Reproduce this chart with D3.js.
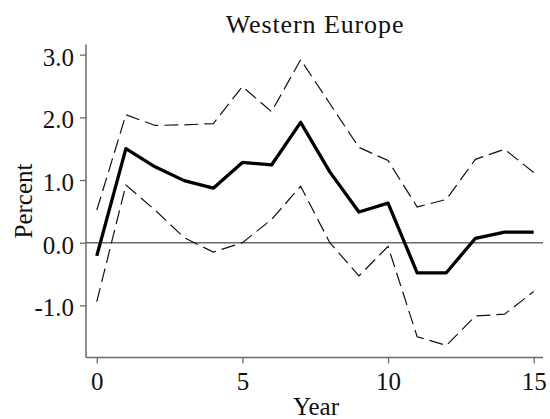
<!DOCTYPE html>
<html>
<head>
<meta charset="utf-8">
<script src="https://cdn.jsdelivr.net/npm/d3@7"></script>
<style>
  html, body { margin: 0; padding: 0; background: #fff; }
  svg { display: block; }
  text { font-family: "Liberation Serif", "Times New Roman", serif; fill: #111; }
</style>
</head>
<body>
<svg id="chart" width="550" height="419"></svg>
<script>
const title = "Western Europe";
const xLabel = "Year";
const yLabel = "Percent";
const years = [0,1,2,3,4,5,6,7,8,9,10,11,12,13,14,15];
const estimate = [-0.21,1.50,1.21,0.99,0.87,1.28,1.24,1.92,1.13,0.49,0.63,-0.48,-0.48,0.07,0.17,0.17];
const upper    = [0.52,2.04,1.87,1.88,1.90,2.49,2.09,2.92,2.22,1.52,1.31,0.57,0.69,1.33,1.49,1.12];
const lower    = [-0.94,0.92,0.52,0.08,-0.15,0.00,0.37,0.90,0.00,-0.53,-0.06,-1.50,-1.64,-1.17,-1.14,-0.78];
const xTicks = [0,5,10,15];
const yTicks = [-1,0,1,2,3];
const yTickLabels = ["-1.0","0.0","1.0","2.0","3.0"];

const svg = d3.select("#chart");
const axisColor = "#6a6a6a";

const x = d3.scaleLinear().domain([-0.37, 15.32]).range([86, 543]);
const y = d3.scaleLinear().domain([-1.83, 3.16]).range([357.4, 44.6]);

// zero line
svg.append("line")
  .attr("x1", x.range()[0]).attr("x2", x.range()[1])
  .attr("y1", y(0)).attr("y2", y(0))
  .attr("stroke", axisColor).attr("stroke-width", 1.5);

// axes
const yAxis = d3.axisLeft(y).tickValues(yTicks)
  .tickFormat((d, i) => yTickLabels[i]).tickSize(6).tickPadding(6);
const xAxis = d3.axisBottom(x).tickValues(xTicks).tickFormat(d3.format("d")).tickSize(6).tickPadding(9);

const gy = svg.append("g").attr("transform", `translate(${x.range()[0]},0)`).call(yAxis);
const gx = svg.append("g").attr("transform", `translate(0,${y.range()[0]})`).call(xAxis);

[gx, gy].forEach(g => {
  g.select(".domain").attr("stroke", axisColor).attr("stroke-width", 1.5);
  g.selectAll(".tick line").attr("stroke", axisColor).attr("stroke-width", 1.3);
  g.selectAll(".tick text")
    .attr("font-family", '"Liberation Serif", serif')
    .attr("font-size", 25).attr("fill", "#111");
});
gy.select(".domain").attr("d", `M-0,${y.range()[1]}V${y.range()[0]}`);
gx.select(".domain").attr("d", `M${x.range()[0]},0H${x.range()[1]}`);
gy.selectAll(".tick text").attr("dy", "0.42em");

const line = d3.line().x((d, i) => x(years[i])).y(d => y(d));

svg.append("path").datum(upper).attr("d", line)
  .attr("fill", "none").attr("stroke", "#111").attr("stroke-width", 1.2)
  .attr("stroke-dasharray", "14,6");
svg.append("path").datum(lower).attr("d", line)
  .attr("fill", "none").attr("stroke", "#111").attr("stroke-width", 1.2)
  .attr("stroke-dasharray", "14,6");
svg.append("path").datum(estimate).attr("d", line)
  .attr("fill", "none").attr("stroke", "#000").attr("stroke-width", 3.3)
  .attr("stroke-linejoin", "round");

// title
svg.append("text").attr("x", 315).attr("y", 33)
  .attr("text-anchor", "middle").attr("font-size", 26)
  .attr("letter-spacing", 0.9).text(title);

// x label
svg.append("text").attr("x", 316).attr("y", 415)
  .attr("text-anchor", "middle").attr("font-size", 25).text(xLabel);

// y label
svg.append("text").attr("transform", "translate(32,201) rotate(-90)")
  .attr("text-anchor", "middle").attr("font-size", 25).text(yLabel);
</script>
</body>
</html>
